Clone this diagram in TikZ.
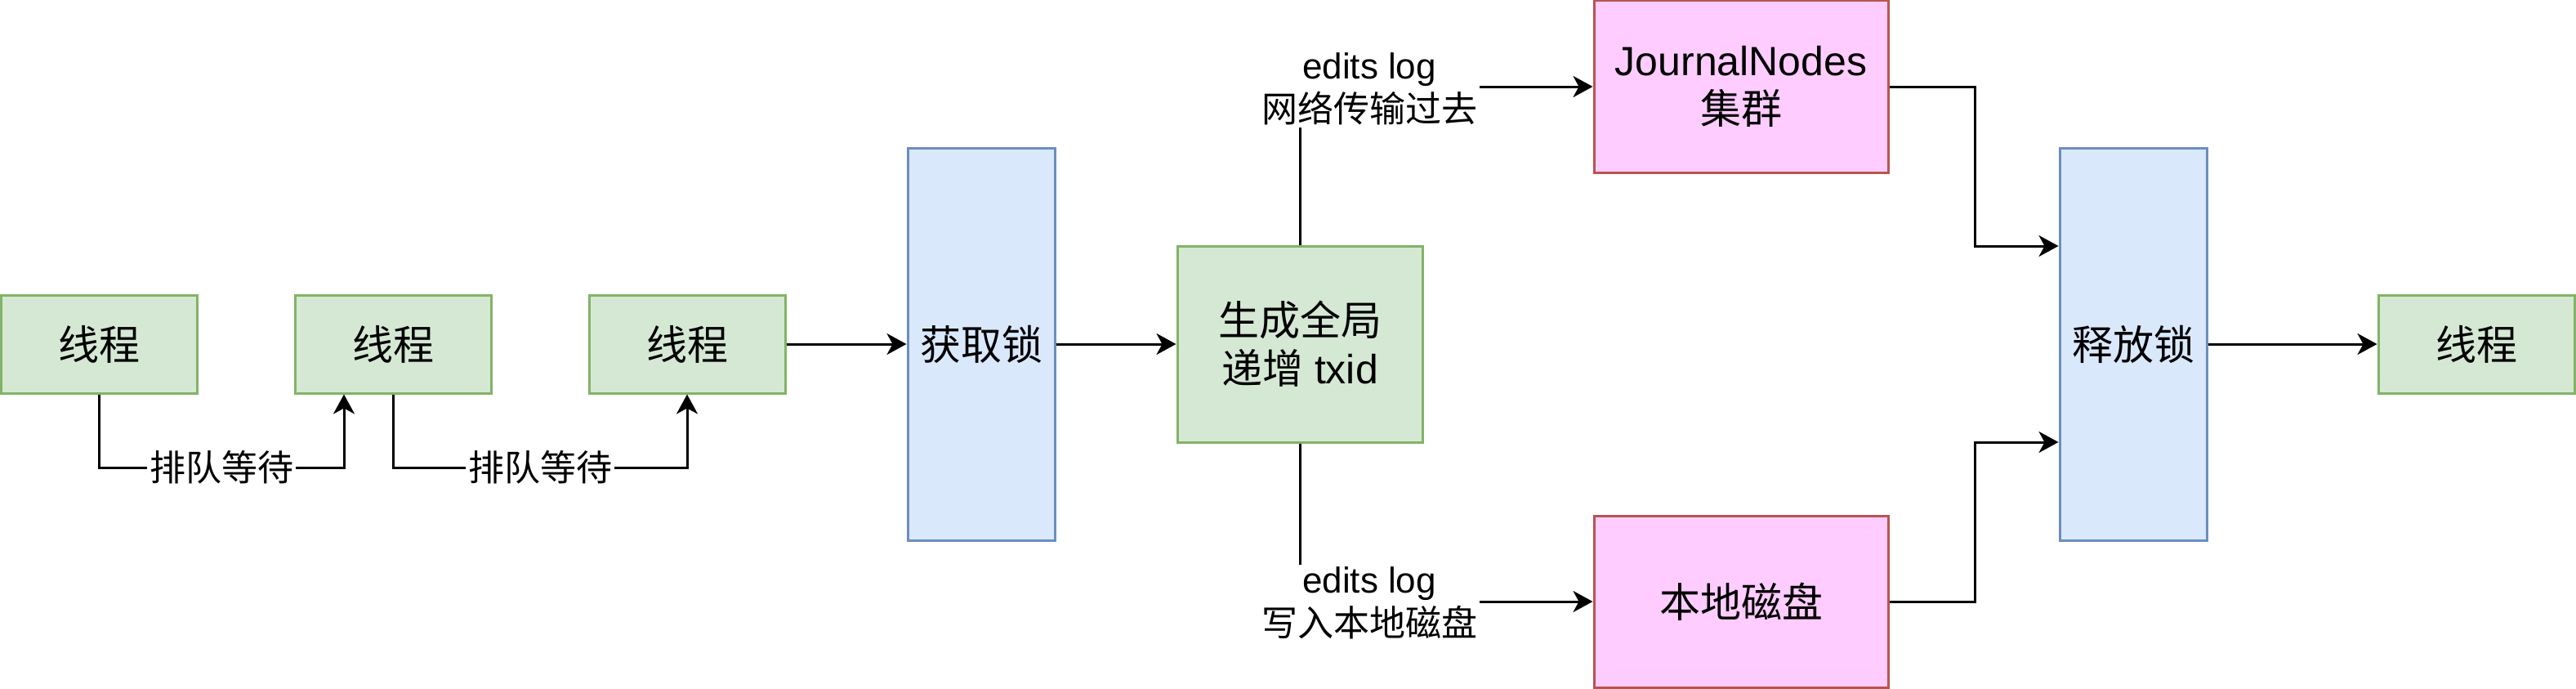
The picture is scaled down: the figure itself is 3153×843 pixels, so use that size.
\documentclass[tikz,border=0pt]{standalone}
\usepackage{fontspec}
\setmainfont{Liberation Sans}
\newfontfamily\cjk{Noto Sans CJK SC}
\usetikzlibrary{arrows.meta}
\definecolor{gfill}{HTML}{D5E8D4}
\definecolor{gdraw}{HTML}{82B366}
\definecolor{bfill}{HTML}{DAE8FC}
\definecolor{bdraw}{HTML}{6C8EBF}
\definecolor{pfill}{HTML}{FFCCFF}
\definecolor{pdraw}{HTML}{B85450}
\begin{document}
\begin{tikzpicture}[x=1pt,y=-1pt,
  basebox/.style={line width=3pt, align=center, inner sep=0pt,
    font=\fontsize{50}{59}\selectfont},
  gbox/.style={basebox, draw=gdraw, fill=gfill},
  bbox/.style={basebox, draw=bdraw, fill=bfill},
  pbox/.style={basebox, draw=pdraw, fill=pfill},
  thread/.style={gbox, minimum width=240pt, minimum height=120pt},
  lockbox/.style={bbox, minimum width=180pt, minimum height=480pt},
  storebox/.style={pbox, minimum width=360pt, minimum height=210pt},
  arr/.style={line width=3pt, -{Stealth[length=24pt, width=26pt, inset=7pt]}},
  lab/.style={fill=white, align=center, inner sep=3pt,
    font=\fontsize{44}{53}\selectfont}]
\useasboundingbox (0,0) rectangle (3153,843);

\node[thread] (t1) at (121,421) {\cjk 线程};
\node[thread] (t2) at (481,421) {\cjk 线程};
\node[thread] (t3) at (841,421) {\cjk 线程};
\node[lockbox] (acq) at (1201,421) {\cjk 获取锁};
\node[gbox, minimum width=300pt, minimum height=240pt] (gen) at (1591,421)
  {{\cjk 生成全局}\\{\cjk 递增} txid};
\node[storebox] (jn) at (2131,106) {JournalNodes\\{\cjk 集群}};
\node[storebox] (disk) at (2131,736) {\cjk 本地磁盘};
\node[lockbox] (rel) at (2611,421) {\cjk 释放锁};
\node[thread] (t4) at (3031,421) {\cjk 线程};

\coordinate (c1) at (271,572);
\coordinate (c2) at (661,572);
\draw[arr] (t1.south) |- (c1) -| ([xshift=-60pt]t2.south);
\draw[arr] (t2.south) |- (c2) -| (t3.south);
\node[lab] at (c1) {\cjk 排队等待};
\node[lab] at (c2) {\cjk 排队等待};

\draw[arr] (t3) -- (acq);
\draw[arr] (acq) -- (gen);

\draw[arr] (gen.north) |- (jn.west);
\draw[arr] (gen.south) |- (disk.west);
\node[lab] at (1676,109) {edits log\\{\cjk 网络传输过去}};
\node[lab] at (1676,738) {edits log\\{\cjk 写入本地磁盘}};

\draw[arr] (jn.east) -- ++(105,0) |- ([yshift=120pt]rel.west);
\draw[arr] (disk.east) -- ++(105,0) |- ([yshift=-120pt]rel.west);

\draw[arr] (rel) -- (t4);
\end{tikzpicture}
\end{document}
